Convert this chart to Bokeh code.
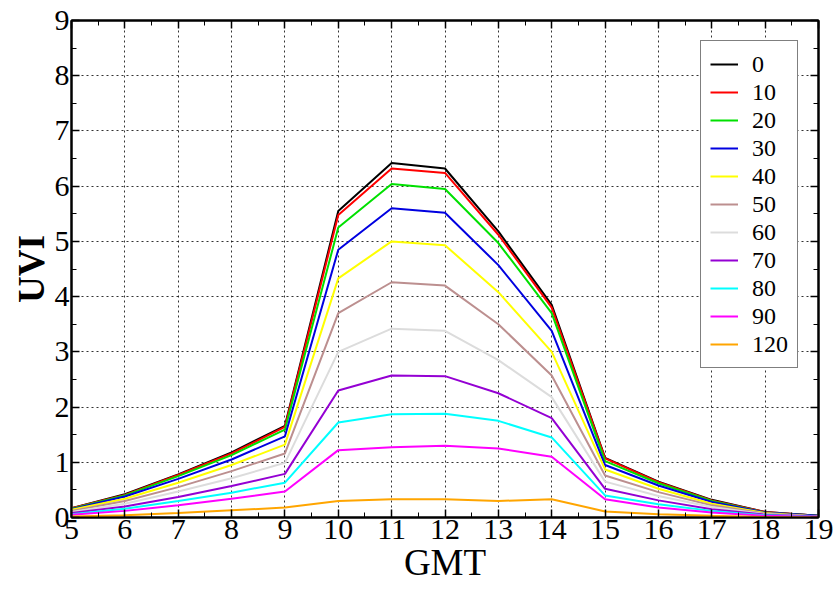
from bokeh.plotting import figure
from bokeh.models import LinearAxis, Legend, LegendItem, Range1d, SingleIntervalTicker
from bokeh.embed import file_html
from bokeh.resources import INLINE

hours = [5, 6, 7, 8, 9, 10, 11, 12, 13, 14, 15, 16, 17, 18, 19]
labels = ["0", "10", "20", "30", "40", "50", "60", "70", "80", "90", "120"]
uvi_0 = [0.17, 0.42, 0.78, 1.18, 1.66, 5.55, 6.42, 6.32, 5.18, 3.85, 1.08, 0.65, 0.32, 0.10, 0.03]
uvi_10 = [0.17, 0.41, 0.77, 1.16, 1.64, 5.48, 6.32, 6.24, 5.12, 3.80, 1.07, 0.64, 0.31, 0.10, 0.03]
uvi_20 = [0.16, 0.40, 0.75, 1.13, 1.59, 5.25, 6.04, 5.95, 4.97, 3.70, 1.02, 0.62, 0.30, 0.09, 0.03]
uvi_30 = [0.15, 0.38, 0.70, 1.05, 1.47, 4.85, 5.60, 5.52, 4.57, 3.38, 0.95, 0.58, 0.28, 0.09, 0.03]
uvi_40 = [0.14, 0.34, 0.63, 0.95, 1.32, 4.33, 5.00, 4.93, 4.08, 3.00, 0.87, 0.52, 0.25, 0.08, 0.02]
uvi_50 = [0.12, 0.30, 0.55, 0.84, 1.16, 3.70, 4.26, 4.20, 3.50, 2.57, 0.76, 0.46, 0.22, 0.07, 0.02]
uvi_60 = [0.10, 0.25, 0.47, 0.71, 0.99, 3.00, 3.42, 3.38, 2.85, 2.18, 0.65, 0.39, 0.19, 0.06, 0.02]
uvi_70 = [0.08, 0.20, 0.37, 0.57, 0.79, 2.30, 2.57, 2.56, 2.25, 1.80, 0.52, 0.31, 0.15, 0.05, 0.02]
uvi_80 = [0.06, 0.16, 0.30, 0.45, 0.63, 1.72, 1.87, 1.88, 1.75, 1.45, 0.40, 0.24, 0.12, 0.04, 0.01]
uvi_90 = [0.05, 0.12, 0.22, 0.34, 0.47, 1.22, 1.27, 1.30, 1.25, 1.10, 0.33, 0.18, 0.09, 0.03, 0.01]
uvi_120 = [0.02, 0.04, 0.08, 0.13, 0.18, 0.30, 0.33, 0.33, 0.30, 0.33, 0.11, 0.06, 0.03, 0.01, 0.00]
series = [uvi_0, uvi_10, uvi_20, uvi_30, uvi_40, uvi_50, uvi_60, uvi_70, uvi_80, uvi_90, uvi_120]
colors = ["#000000", "#ff0000", "#00e000", "#0000e0", "#ffff00", "#bc8f8f",
          "#dcdcdc", "#9400d3", "#00ffff", "#ff00ff", "#ffa500"]

FONT = "Liberation Serif"

p = figure(width=835, height=585, output_backend="svg", toolbar_location=None,
           x_range=Range1d(5, 19), y_range=Range1d(0, 9),
           min_border_left=71, min_border_right=17, min_border_top=20, min_border_bottom=67,
           x_axis_label="GMT", y_axis_label="UVI")
p.outline_line_color = "black"
p.outline_line_width = 2

p.xaxis.ticker = SingleIntervalTicker(interval=1, num_minor_ticks=2)
p.yaxis.ticker = SingleIntervalTicker(interval=1, num_minor_ticks=2)

for ax in [p.xaxis[0], p.yaxis[0]]:
    ax.major_label_text_font = FONT
    ax.major_label_text_font_size = "30px"
    ax.major_label_text_color = "black"
    ax.axis_label_text_font = FONT
    ax.axis_label_text_font_size = "37px"
    ax.axis_label_text_color = "black"
    ax.axis_label_text_font_style = "normal"
    ax.major_tick_in = 8
    ax.major_tick_out = 0
    ax.minor_tick_in = 5
    ax.minor_tick_out = 0
    ax.axis_line_width = 2
    ax.major_tick_line_width = 1.5
    ax.major_label_standoff = 2
    ax.axis_label_standoff = 0
p.yaxis[0].axis_label_text_font_style = "bold"

for loc in ["above", "right"]:
    ax = LinearAxis(ticker=SingleIntervalTicker(interval=1, num_minor_ticks=2),
                    major_label_text_font_size="0px", major_label_standoff=0,
                    major_tick_in=8, major_tick_out=0, minor_tick_in=5, minor_tick_out=0,
                    axis_line_width=2, major_tick_line_width=1.5)
    p.add_layout(ax, loc)

p.grid.grid_line_color = "black"
p.grid.grid_line_dash = "2 3"
p.grid.grid_line_width = 1
p.grid.grid_line_alpha = 0.8

items = []
for lab, ys, c in zip(labels, series, colors):
    r = p.line(hours, ys, line_color=c, line_width=2)
    items.append(LegendItem(label=lab, renderers=[r]))

legend = Legend(items=items, location="top_right")
legend.margin = 20
legend.label_text_font = FONT
legend.label_text_font_size = "24px"
legend.label_text_color = "black"
legend.label_height = 28
legend.glyph_height = 28
legend.glyph_width = 28
legend.spacing = 0
legend.padding = 9
legend.label_standoff = 14
legend.border_line_color = "black"
legend.border_line_width = 1.5
legend.background_fill_alpha = 1
p.add_layout(legend)

open("out.html", "w").write(file_html(p, INLINE))
